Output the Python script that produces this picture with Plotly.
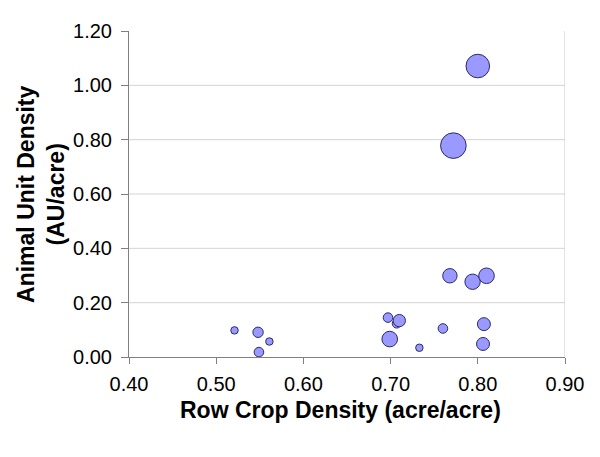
import plotly.graph_objects as go

# Data
row_crop_density = [0.800, 0.772, 0.768, 0.794, 0.810, 0.521, 0.548, 0.561, 0.549,
                    0.697, 0.707, 0.710, 0.699, 0.733, 0.760, 0.807, 0.806]
animal_unit_density = [1.071, 0.778, 0.299, 0.277, 0.299, 0.098, 0.091, 0.057, 0.018,
                       0.145, 0.123, 0.134, 0.066, 0.034, 0.105, 0.121, 0.048]
bubble_size = [139, 164, 52, 59, 61, 14, 27, 14, 23,
               23, 20, 38, 61, 14, 23, 42, 42]

x_ticks = [0.40, 0.50, 0.60, 0.70, 0.80, 0.90]
y_ticks = [0.00, 0.20, 0.40, 0.60, 0.80, 1.00, 1.20]
x_title = "Row Crop Density (acre/acre)"
y_title = "Animal Unit Density<br>(AU/acre)"

FONT = "Liberation Sans, Arial, sans-serif"

fig = go.Figure()
fig.add_trace(go.Scatter(
    x=row_crop_density, y=animal_unit_density, mode="markers",
    marker=dict(size=bubble_size, sizemode="area", sizeref=0.5,
                color="#9999FF", opacity=1,
                line=dict(color="#2B2B66", width=1)),
    hoverinfo="x+y", showlegend=False,
))

# horizontal gridlines (interior ticks only)
for yv in y_ticks[1:-1]:
    fig.add_shape(type="line", xref="x", yref="y", x0=x_ticks[0], x1=x_ticks[-1],
                  y0=yv, y1=yv, line=dict(color="#D4D4D4", width=1), layer="below")
# right plot-area border
fig.add_shape(type="line", xref="x", yref="y", x0=x_ticks[-1], x1=x_ticks[-1],
              y0=y_ticks[0], y1=y_ticks[-1], line=dict(color="#C8C8C8", width=1), layer="below")

fig.update_xaxes(range=[x_ticks[0], x_ticks[-1]], tickvals=x_ticks,
                 ticktext=[f"{v:.2f}" for v in x_ticks],
                 showgrid=False, zeroline=False, showline=True,
                 linecolor="#808080", linewidth=1, ticks="outside", ticklen=6,
                 tickcolor="#808080", tickfont=dict(family=FONT, size=20, color="black"),
                 ticklabelstandoff=3)
fig.update_yaxes(range=[y_ticks[0], y_ticks[-1]], tickvals=y_ticks,
                 ticktext=[f"{v:.2f}" for v in y_ticks],
                 showgrid=False, zeroline=False, showline=True,
                 linecolor="#808080", linewidth=1, ticks="outside", ticklen=7,
                 tickcolor="#808080", tickfont=dict(family=FONT, size=20, color="black"),
                 ticklabelstandoff=5)

fig.add_annotation(text=x_title, xref="paper", yref="paper", x=0.486, y=-0.162,
                   xanchor="center", yanchor="middle", showarrow=False,
                   font=dict(family=FONT, size=23, color="black", weight="bold"))
fig.add_annotation(text=y_title, xref="paper", yref="paper", x=-0.202, y=0.5,
                   xanchor="center", yanchor="middle", showarrow=False, textangle=-90,
                   font=dict(family=FONT, size=23, color="black", weight="bold"))

fig.update_layout(width=592, height=449, margin=dict(l=121, r=35, t=21, b=100),
                  plot_bgcolor="white", paper_bgcolor="white")

fig.write_html("out.html")
